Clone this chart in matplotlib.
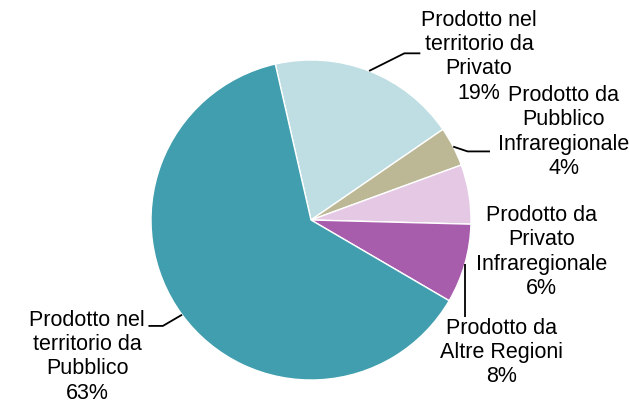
import numpy as np
import matplotlib.pyplot as plt

plt.rcParams['font.family'] = ['Liberation Sans', 'DejaVu Sans']

# slices, clockwise from the top
labels = ['Prodotto nel\nterritorio da\nPrivato',
          'Prodotto da\nPubblico\nInfraregionale',
          'Prodotto da\nPrivato\nInfraregionale',
          'Prodotto da\nAltre Regioni',
          'Prodotto nel\nterritorio da\nPubblico']
values = [19, 4, 6, 8, 63]
colors = ['#BEDEE3', '#BCB794', '#E4C8E4', '#A85CAC', '#409EAE']

# label centres (data units, pie radius = 1)
label_pos = [(1.05, 1.02), (1.58, 0.55), (1.44, -0.20), (1.19, -0.83), (-1.40, -0.855)]
# leader line: None or (elbow, end) relative to wedge edge point
leaders = [[(0.22, 0.11), (0.32, 0.11)],
           [(0.09, -0.03), (0.23, -0.03)],
           None,
           [(0.0, -0.33)],
           [(-0.12, -0.07), (-0.21, -0.07)]]

fig = plt.figure(figsize=(6.29, 4.0), dpi=100)
ax = fig.add_axes([0, 0, 1, 1])
cx, cy, r = 311, 220, 160
ax.set_xlim(-cx / r, (629 - cx) / r)
ax.set_ylim(-(400 - cy) / r, cy / r)
ax.axis('off')

wedges, _ = ax.pie(values, colors=colors, startangle=102.9, counterclock=False,
                   radius=1, center=(0, 0), frame=True,
                   wedgeprops=dict(edgecolor='white', linewidth=1))
ax.axis('off')

for w, lab, v, pos, ld in zip(wedges, labels, values, label_pos, leaders):
    ang = np.deg2rad((w.theta1 + w.theta2) / 2)
    ex, ey = np.cos(ang), np.sin(ang)
    ax.text(pos[0], pos[1], f'{lab}\n{v}%', ha='center', va='center',
            fontsize=15.5, color='black')
    if ld is not None:
        xs = [ex] + [ex + p[0] for p in ld]
        ys = [ey] + [ey + p[1] for p in ld]
        ax.plot(xs, ys, color='black', lw=1.3, solid_capstyle='butt')

fig.savefig('out.png', dpi=100)
